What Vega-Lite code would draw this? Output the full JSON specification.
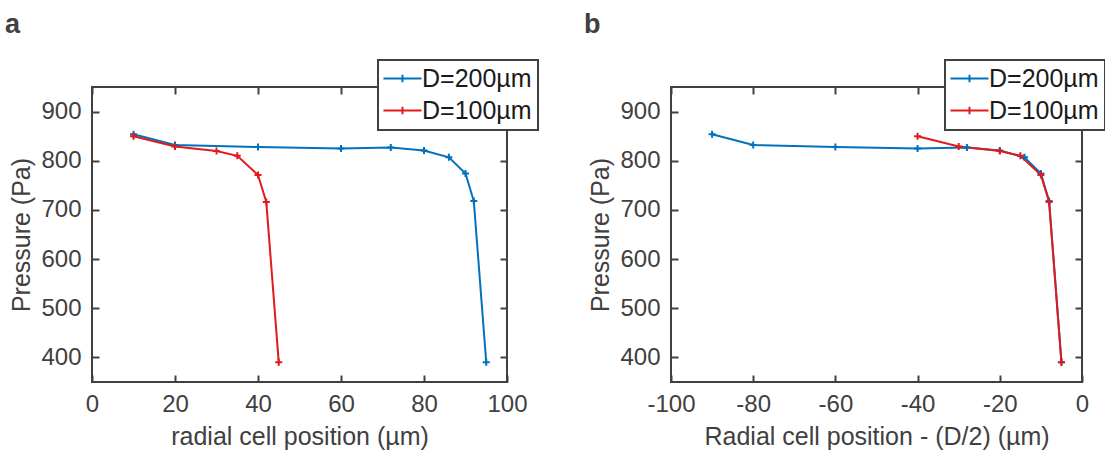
{
  "$schema": "https://vega.github.io/schema/vega-lite/v6.json",
  "background": "white",
  "padding": {"left": 4, "top": 10, "right": 0, "bottom": 0},
  "datasets": {
    "pts": [
      {"D": "D=200µm", "pos": 10, "shifted": -90, "p": 854},
      {"D": "D=200µm", "pos": 20, "shifted": -80, "p": 832},
      {"D": "D=200µm", "pos": 40, "shifted": -60, "p": 828},
      {"D": "D=200µm", "pos": 60, "shifted": -40, "p": 825},
      {"D": "D=200µm", "pos": 72, "shifted": -28, "p": 827},
      {"D": "D=200µm", "pos": 80, "shifted": -20, "p": 821},
      {"D": "D=200µm", "pos": 86, "shifted": -14, "p": 807},
      {"D": "D=200µm", "pos": 90, "shifted": -10, "p": 774},
      {"D": "D=200µm", "pos": 92, "shifted": -8, "p": 718},
      {"D": "D=200µm", "pos": 95, "shifted": -5, "p": 390},
      {"D": "D=100µm", "pos": 10, "shifted": -40, "p": 850},
      {"D": "D=100µm", "pos": 20, "shifted": -30, "p": 829},
      {"D": "D=100µm", "pos": 30, "shifted": -20, "p": 820},
      {"D": "D=100µm", "pos": 35, "shifted": -15, "p": 810},
      {"D": "D=100µm", "pos": 40, "shifted": -10, "p": 771},
      {"D": "D=100µm", "pos": 42, "shifted": -8, "p": 716},
      {"D": "D=100µm", "pos": 45, "shifted": -5, "p": 390}
    ]
  },
  "config": {
    "font": "Liberation Sans",
    "view": {"stroke": "#404040", "strokeWidth": 2},
    "axis": {
      "grid": false,
      "domain": false,
      "labelFont": "Liberation Sans",
      "labelFontSize": 24,
      "labelColor": "#404040",
      "labelFlush": false,
      "titleFont": "Liberation Sans",
      "titleFontSize": 25,
      "titleFontWeight": "normal",
      "titleColor": "#404040",
      "tickColor": "#404040",
      "tickWidth": 2,
      "tickSize": -7
    },
    "axisX": {"labelPadding": 17, "titlePadding": 8},
    "axisY": {"labelPadding": 18, "titlePadding": 6},
    "legend": {
      "orient": "none",
      "fillColor": "white",
      "strokeColor": "#404040",
      "strokeWidth": 2,
      "padding": 6,
      "labelFont": "Liberation Sans",
      "labelFontSize": 25,
      "labelColor": "#1a1a1a",
      "rowPadding": 6,
      "symbolType": "M-5,0L5,0M0,-1L0,1",
      "symbolSize": 58,
      "symbolStrokeWidth": 2,
      "symbolFillColor": "transparent",
      "symbolOffset": 6,
      "labelOffset": 7
    },
    "title": {
      "font": "Liberation Sans",
      "fontSize": 27,
      "fontWeight": "bold",
      "color": "#404040",
      "anchor": "start",
      "frame": "group",
      "dx": -87,
      "offset": 20
    },
    "concat": {"spacing": 43}
  },
  "resolve": {"scale": {"color": "independent"}, "legend": {"color": "independent"}},
  "hconcat": [
    {
      "width": 415,
      "height": 295,
      "title": {"text": "a"},
      "data": {"name": "pts"},
      "layer": [
        {
          "mark": {"type": "line", "strokeWidth": 2},
          "encoding": {
            "x": {"field": "pos", "type": "quantitative", "scale": {"domain": [0, 100], "nice": false}, "axis": {"title": "radial cell position (µm)", "values": [0, 20, 40, 60, 80, 100]}},
            "y": {"field": "p", "type": "quantitative", "scale": {"domain": [350, 950], "nice": false, "zero": false}, "axis": {"title": "Pressure (Pa)", "values": [400, 500, 600, 700, 800, 900]}},
            "color": {"field": "D", "type": "nominal", "scale": {"domain": ["D=200µm", "D=100µm"], "range": ["#0072BD", "#E31A1C"]}, "legend": {"title": null, "legendX": 286, "legendY": -27}}
          }
        },
        {
          "mark": {"type": "point", "shape": "M-1,0L1,0M0,-1L0,1", "filled": false, "strokeWidth": 2, "size": 49, "opacity": 1},
          "encoding": {
            "x": {"field": "pos", "type": "quantitative", "axis": null},
            "y": {"field": "p", "type": "quantitative", "axis": null},
            "color": {"field": "D", "type": "nominal", "legend": null}
          }
        },
        {
          "mark": {"type": "point", "opacity": 0},
          "encoding": {
            "x": {"field": "pos", "type": "quantitative", "axis": {"orient": "top", "labels": false, "title": null, "values": [0, 20, 40, 60, 80, 100]}},
            "y": {"field": "p", "type": "quantitative", "axis": {"orient": "right", "labels": false, "title": null, "values": [400, 500, 600, 700, 800, 900]}}
          }
        }
      ],
      "resolve": {"axis": {"x": "independent", "y": "independent"}}
    },
    {
      "width": 411,
      "height": 295,
      "title": {"text": "b"},
      "data": {"name": "pts"},
      "layer": [
        {
          "mark": {"type": "line", "strokeWidth": 2},
          "encoding": {
            "x": {"field": "shifted", "type": "quantitative", "scale": {"domain": [-100, 0], "nice": false}, "axis": {"title": "Radial cell position - (D/2) (µm)", "values": [-100, -80, -60, -40, -20, 0], "labelExpr": "replace(datum.label, '\u2212', '-')"}},
            "y": {"field": "p", "type": "quantitative", "scale": {"domain": [350, 950], "nice": false, "zero": false}, "axis": {"title": "Pressure (Pa)", "values": [400, 500, 600, 700, 800, 900]}},
            "color": {"field": "D", "type": "nominal", "scale": {"domain": ["D=200µm", "D=100µm"], "range": ["#0072BD", "#E31A1C"]}, "legend": {"title": null, "legendX": 274, "legendY": -27}}
          }
        },
        {
          "mark": {"type": "point", "shape": "M-1,0L1,0M0,-1L0,1", "filled": false, "strokeWidth": 2, "size": 49, "opacity": 1},
          "encoding": {
            "x": {"field": "shifted", "type": "quantitative", "axis": null},
            "y": {"field": "p", "type": "quantitative", "axis": null},
            "color": {"field": "D", "type": "nominal", "legend": null}
          }
        },
        {
          "mark": {"type": "point", "opacity": 0},
          "encoding": {
            "x": {"field": "shifted", "type": "quantitative", "axis": {"orient": "top", "labels": false, "title": null, "values": [-100, -80, -60, -40, -20, 0]}},
            "y": {"field": "p", "type": "quantitative", "axis": {"orient": "right", "labels": false, "title": null, "values": [400, 500, 600, 700, 800, 900]}}
          }
        }
      ],
      "resolve": {"axis": {"x": "independent", "y": "independent"}}
    }
  ]
}
